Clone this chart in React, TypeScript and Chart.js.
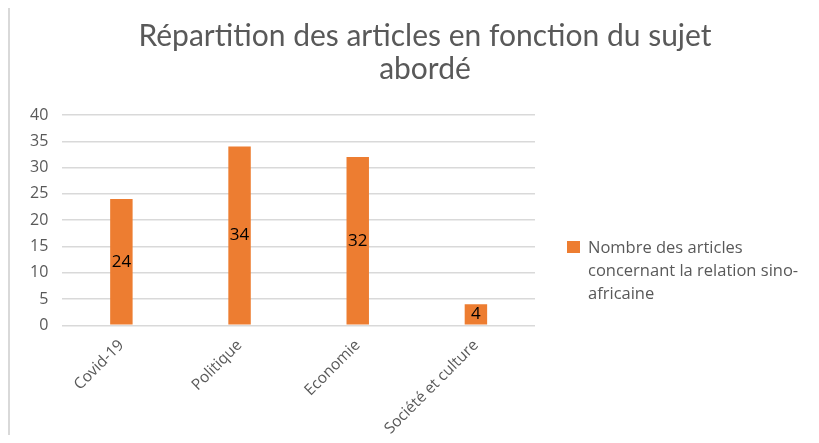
import React, { useEffect, useRef } from "react";
import { Chart, registerables } from "chart.js";

Chart.register(...registerables);

const TITLE_LINES = ["Répartition des articles en fonction du sujet", "abordé"];
const CATEGORIES = ["Covid-19", "Politique", "Economie", "Société et culture"];
const SERIES_LABEL = "Nombre des articles concernant la relation sino-africaine";
const LEGEND_LINES = ["Nombre des articles", "concernant la relation sino-", "africaine"];
const VALUES = [24, 34, 32, 4];
const Y_MIN = 0;
const Y_MAX = 40;
const Y_STEP = 5;

const ORANGE = "#ED7D31";
const GRAY_TEXT = "#595959";
const GRID = "#D9D9D9";
const FONT = "'Open Sans', 'Noto Sans', sans-serif";

const valueLabels = {
  id: "valueLabels",
  afterDatasetsDraw(chart: any) {
    const ctx = chart.ctx;
    const meta = chart.getDatasetMeta(0);
    ctx.save();
    ctx.fillStyle = "#000";
    ctx.font = `17px ${FONT}`;
    ctx.textAlign = "center";
    ctx.textBaseline = "middle";
    meta.data.forEach((bar: any, i: number) => {
      const v = chart.data.datasets[0].data[i];
      const y = (bar.y + bar.base) / 2;
      ctx.fillText(String(v), bar.x, y);
    });
    ctx.restore();
  },
};

export default function App() {
  const ref = useRef<HTMLCanvasElement>(null);
  useEffect(() => {
    if (!ref.current) return;
    const chart = new Chart(ref.current, {
      type: "bar",
      data: {
        labels: CATEGORIES,
        datasets: [
          {
            label: SERIES_LABEL,
            data: VALUES,
            backgroundColor: ORANGE,
            barPercentage: 0.19,
            categoryPercentage: 1,
          },
        ],
      },
      options: {
        responsive: false,
        animation: false,
        layout: { padding: { top: 107, right: 33, left: 8, bottom: 0 } },
        plugins: {
          legend: { display: false },
          title: { display: false },
          tooltip: { enabled: false },
        },
        scales: {
          x: {
            grid: { display: false },
            border: { display: false },
            ticks: {
              color: GRAY_TEXT,
              font: { family: FONT, size: 15.5 },
              minRotation: 45,
              maxRotation: 45,
              autoSkip: false,
            },
          },
          y: {
            min: Y_MIN,
            max: Y_MAX,
            grid: { color: GRID, lineWidth: 1.5, drawTicks: false },
            border: { display: false },
            ticks: {
              stepSize: Y_STEP,
              color: GRAY_TEXT,
              font: { family: FONT, size: 16 },
              padding: 14,
            },
          },
        },
      },
      plugins: [valueLabels],
    });
    return () => chart.destroy();
  }, []);

  return (
    <div style={{ position: "relative", width: 803, height: 427, overflow: "hidden" }}>
      <div
        style={{
          position: "absolute",
          left: 0,
          top: 0,
          width: 2,
          height: 427,
          background: "#D9D9D9",
        }}
      />
      <canvas
        ref={ref}
        width={560}
        height={433}
        style={{ position: "absolute", left: 0, top: 0 }}
      />
      <div
        style={{
          position: "absolute",
          left: 417 - 350,
          top: 10,
          width: 700,
          textAlign: "center",
          fontFamily: "Lato, 'Open Sans', sans-serif",
          fontSize: 30,
          lineHeight: "33px",
          color: GRAY_TEXT,
        }}
      >
        {TITLE_LINES.map((l) => (
          <div key={l}>{l}</div>
        ))}
      </div>
      <div
        style={{
          position: "absolute",
          left: 559,
          top: 227,
          fontFamily: FONT,
          fontSize: 16.5,
          lineHeight: "23px",
          color: GRAY_TEXT,
        }}
      >
        <div
          style={{
            position: "absolute",
            left: 0,
            top: 6,
            width: 13,
            height: 12,
            background: ORANGE,
          }}
        />
        <div style={{ marginLeft: 21 }}>
          {LEGEND_LINES.map((l) => (
            <div key={l}>{l}</div>
          ))}
        </div>
      </div>
    </div>
  );
}
